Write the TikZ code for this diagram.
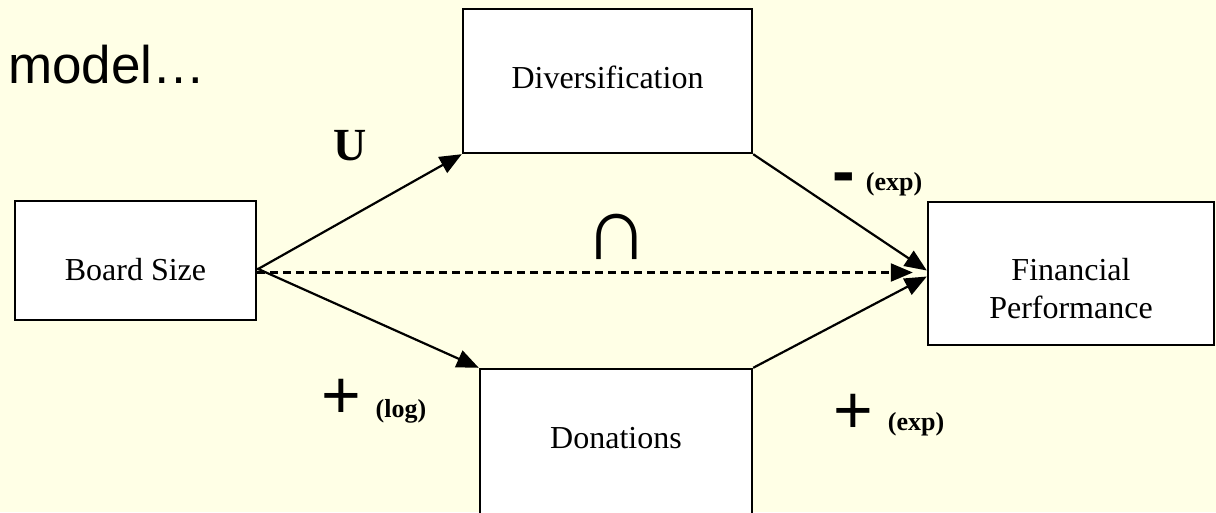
\documentclass[tikz,border=0pt]{standalone}
\usepackage{fontspec}
\setmainfont{Liberation Serif}
\newfontfamily\arialf{Liberation Sans}
\usetikzlibrary{arrows.meta}
\definecolor{bgyellow}{RGB}{255,255,230}
\tikzset{
  box/.style={draw=black, fill=white, line width=2.4pt, rectangle, inner sep=0pt,
    font=\fontsize{32}{38}\selectfont},
  conn/.style={line width=2.2pt, -{Triangle[length=22pt,width=18pt]}},
  dconn/.style={conn, dash pattern=on 8pt off 5pt},
  sign/.style={inner sep=0pt, anchor=base, font=\arialf\fontsize{68}{68}\selectfont},
  sub/.style={inner sep=0pt, anchor=base, font=\bfseries\fontsize{26}{26}\selectfont},
}
\begin{document}
\begin{tikzpicture}[x=1pt,y=-1pt]
\fill[bgyellow] (0,0) rectangle (1216,512);
\useasboundingbox (0,0) rectangle (1216,512);
\begin{scope}
\clip (0,0) rectangle (1216,512);
\node[box, minimum width=241pt, minimum height=119pt, text height=39pt, text depth=0pt] (board) at (135.5,260.5) {Board Size};
\node[box, minimum width=289pt, minimum height=144pt, text height=20pt, text depth=6pt] (div) at (607.5,81) {Diversification};
\node[box, minimum width=272pt, minimum height=151pt, text height=13pt, text depth=6pt] (don) at (616,444.5) {Donations};
\node[box, align=center, minimum width=286pt, minimum height=143pt, text height=89pt, text depth=0pt] (fp) at (1071,273.5) {Financial\\Performance};
\end{scope}

\node[inner sep=0pt, anchor=base west, font=\arialf\fontsize{53}{53}\selectfont] (title) at (8,83) {model…};

\draw[conn] ([yshift=-9pt]board.east) -- (div.south west);
\draw[conn] ([yshift=-8pt]board.east) -- (don.north west);
\draw[dconn] ([yshift=-12pt]board.east) -- ([xshift=-14pt,yshift=1pt]fp.west);
\draw[conn] (div.south east) -- ([yshift=3pt]fp.west);
\draw[conn] (don.north east) -- ([yshift=-3pt]fp.west);

\node[inner sep=0pt, anchor=base, font=\bfseries\fontsize{46}{46}\selectfont] (u) at (350,160) {U};
\node[inner sep=0pt, anchor=base, font=\arialf\fontsize{90}{90}\selectfont] (cap) at (617,259) {∩};
\node[sign, font=\arialf\bfseries\fontsize{68}{68}\selectfont] (minus) at (844,194) {-};
\node[sub] (exp1) at (894,190) {(exp)};
\node[sign] (plus1) at (341,418) {+};
\node[sub] (log) at (401,417) {(log)};
\node[sign] (plus2) at (853,433) {+};
\node[sub] (exp2) at (916,430) {(exp)};
\end{tikzpicture}
\end{document}
